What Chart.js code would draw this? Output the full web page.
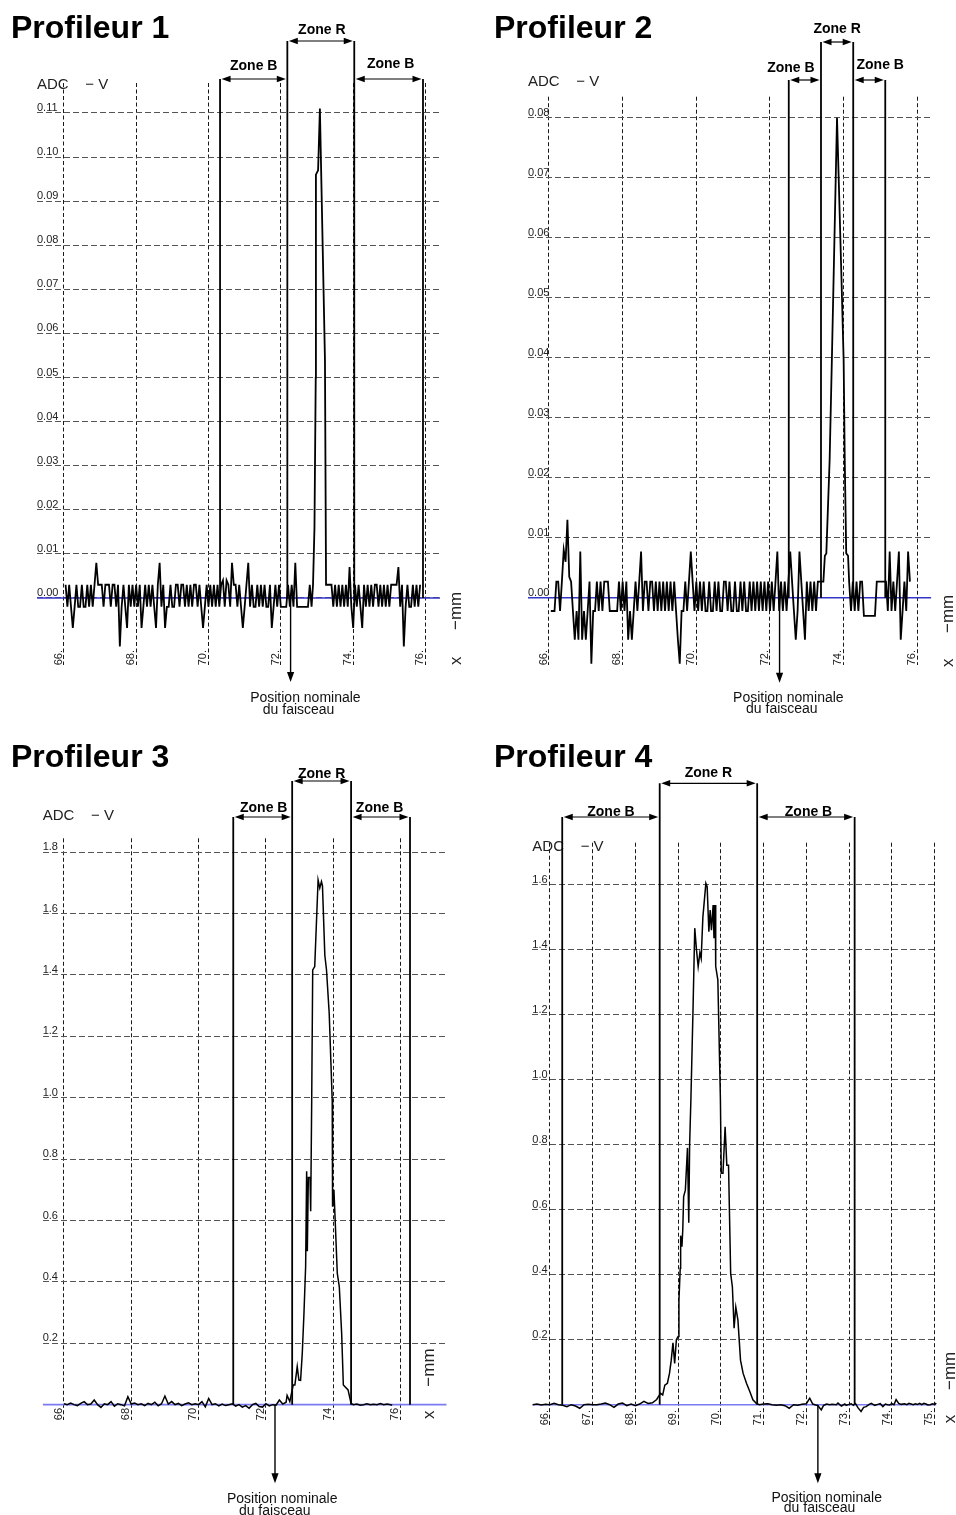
<!DOCTYPE html>
<html><head><meta charset="utf-8">
<script src="https://cdn.jsdelivr.net/npm/chart.js@4.4.1/dist/chart.umd.min.js"></script>
<style>
html,body{margin:0;padding:0;background:#fff;}
#wrap{position:relative;width:956px;height:1515px;overflow:hidden;background:#fff;}
#wrap canvas{position:absolute;}
</style></head><body>
<div id="wrap">
<canvas id="c1" width="478" height="740" style="left:0px;top:0px"></canvas>
<canvas id="c2" width="478" height="740" style="left:478px;top:0px"></canvas>
<canvas id="c3" width="478" height="775" style="left:0px;top:740px"></canvas>
<canvas id="c4" width="478" height="775" style="left:478px;top:740px"></canvas>
</div>
<script>
// ---------- Profileur 1 ----------
const p1X = [66.05,66.10,66.15,66.20,66.25,66.30,66.35,66.40,66.45,66.50,66.55,66.60,66.65,66.70,66.75,66.80,66.85,66.90,66.95,67.00,
67.05,67.10,67.15,67.20,67.25,67.30,67.35,67.40,67.45,67.50,67.55,67.60,67.65,67.70,67.75,67.80,67.85,67.90,67.95,68.00,
68.05,68.10,68.15,68.20,68.25,68.30,68.35,68.40,68.45,68.50,68.55,68.60,68.65,68.70,68.75,68.80,68.85,68.90,68.95,69.00,
69.05,69.10,69.15,69.20,69.25,69.30,69.35,69.40,69.45,69.50,69.55,69.60,69.65,69.70,69.75,69.80,69.85,69.90,69.95,70.00,
70.05,70.10,70.15,70.20,70.25,70.30,70.35,70.40,70.45,70.50,70.55,70.60,70.65,70.70,70.75,70.80,70.85,70.90,70.95,71.00,
71.05,71.10,71.15,71.20,71.25,71.30,71.35,71.40,71.45,71.50,71.55,71.60,71.65,71.70,71.75,71.80,71.85,71.90,71.95,72.00,
72.05,72.10,72.15,72.20,72.25,72.30,72.35,72.40,72.45,72.50,72.55,72.60,72.65,72.70,72.75,72.80,72.85,
72.89,72.93,72.965,72.97,73.03,73.08,73.22,73.25,
73.30,73.35,73.40,73.45,73.50,73.55,73.60,73.65,73.70,73.75,73.80,73.85,73.90,73.95,74.00,
74.05,74.10,74.15,74.20,74.25,74.30,74.35,74.40,74.45,74.50,74.55,74.60,74.65,74.70,74.75,74.80,74.85,74.90,74.95,75.00,
75.05,75.10,75.15,75.20,75.25,75.30,75.35,75.40,75.45,75.50,75.55,75.60,75.65,75.70,75.75,75.80,75.85];
const p1Y = [0.003,-0.002,0.003,-0.002,-0.0068,-0.002,0.003,-0.002,-0.002,0.003,-0.002,-0.002,0.003,-0.002,0.003,-0.002,0.003,0.008,0.003,0.003,
0.003,-0.002,0.003,0.003,0.003,-0.002,0.003,0.003,-0.002,0.003,-0.011,-0.002,0.003,-0.002,-0.0068,0.003,-0.002,0.003,-0.002,0.003,
-0.002,0.003,-0.0068,-0.002,0.003,-0.002,0.003,-0.002,0.003,-0.002,-0.0068,0.003,0.008,-0.002,0.003,-0.0068,-0.002,-0.002,0.003,-0.002,
-0.002,0.003,0.003,-0.002,0.003,0.003,-0.002,0.003,-0.002,0.003,-0.002,0.003,0.003,-0.002,0.003,-0.002,-0.0068,-0.002,0.003,-0.002,
0.003,-0.002,0.003,-0.002,0.003,-0.002,0.003,0.004,-0.002,0.004,0.003,-0.002,0.008,0.003,0.003,-0.002,0.003,-0.002,-0.0068,-0.002,
0.003,0.008,-0.002,0.003,-0.002,-0.002,0.003,-0.002,0.003,-0.002,0.003,-0.002,-0.002,0.003,-0.0068,-0.002,0.003,-0.002,0.003,-0.002,
-0.002,-0.002,-0.002,0.003,-0.002,0.003,-0.002,0.008,-0.002,-0.002,-0.002,-0.002,-0.002,-0.002,-0.002,0.003,-0.002,
0.003,0.016,0.05,0.096,0.097,0.111,0.054,0.003,
0.003,0.003,0.003,-0.002,0.003,-0.002,0.003,-0.002,0.003,-0.002,0.003,-0.002,0.007,-0.002,-0.0068,
0.003,-0.002,0.003,-0.002,-0.0068,0.003,-0.002,0.003,-0.002,0.003,-0.002,0.003,0.003,-0.002,0.003,-0.002,0.003,-0.002,0.003,-0.002,
0.003,0.003,0.003,0.003,0.007,-0.002,0.003,-0.011,-0.002,0.003,-0.002,-0.002,0.003,-0.002,0.003,-0.002,0.003];
const p1XTicks = [66,68,70,72,74,76];
const p1YTicks = [0,0.01,0.02,0.03,0.04,0.05,0.06,0.07,0.08,0.09,0.10,0.11];
const p1XRange = [65.26,76.4];
const p1YRange = [-0.0152,0.1168];
const p1Zones = [70.32,72.18,74.03,75.93];
const p1Nominal = 72.27;

// ---------- Profileur 2 ----------
const p2X = [66.05,66.10,66.15,66.20,66.25,66.30,66.35,66.40,66.45,66.50,66.55,66.60,66.65,66.70,66.75,66.80,66.85,66.90,66.95,67.00,
67.05,67.10,67.15,67.20,67.25,67.30,67.35,67.40,67.45,67.50,67.55,67.60,67.65,67.70,67.75,67.80,67.85,67.90,67.95,68.00,
68.05,68.10,68.15,68.20,68.25,68.30,68.35,68.40,68.45,68.50,68.55,68.60,68.65,68.70,68.75,68.80,68.85,68.90,68.95,69.00,
69.05,69.10,69.15,69.20,69.25,69.30,69.35,69.40,69.45,69.50,69.55,69.60,69.65,69.70,69.75,69.80,69.85,69.90,69.95,70.00,
70.05,70.10,70.15,70.20,70.25,70.30,70.35,70.40,70.45,70.50,70.55,70.60,70.65,70.70,70.75,70.80,70.85,70.90,70.95,71.00,
71.05,71.10,71.15,71.20,71.25,71.30,71.35,71.40,71.45,71.50,71.55,71.60,71.65,71.70,71.75,71.80,71.85,71.90,71.95,72.00,
72.05,72.10,72.15,72.20,72.25,72.30,72.35,72.40,72.45,72.50,72.55,72.60,72.65,72.70,72.75,72.80,72.85,72.90,72.95,73.00,
73.05,73.10,73.15,73.20,73.25,73.30,73.35,73.40,73.45,
73.49,73.53,73.62,73.68,73.82,73.94,74.00,74.03,74.07,74.12,74.15,
74.20,74.25,74.30,74.35,74.40,74.45,74.50,74.55,74.60,74.65,74.70,74.75,74.80,74.85,74.90,74.95,75.00,75.05,75.10,75.15,
75.20,75.25,75.30,75.35,75.40,75.45,75.50,75.55,75.60,75.65,75.70,75.75,75.80];
const p2Y = [-0.0022,-0.0022,-0.0022,0.0027,0.0027,-0.0022,0.0027,0.008,0.006,0.013,0.0035,0.0027,-0.0022,-0.007,-0.0022,-0.007,0.0077,-0.007,-0.0022,-0.007,
-0.0022,0.0027,-0.011,-0.0022,-0.0022,0.0027,-0.0022,0.0027,-0.0022,0.0027,0.0027,0.0027,-0.0022,-0.0022,-0.0022,-0.0022,-0.0022,0.0027,-0.0022,0.0027,
-0.0022,0.0027,-0.007,-0.0022,-0.007,-0.0022,0.0027,-0.0022,0.0027,0.0077,-0.0022,0.0027,0.0027,-0.0022,0.0027,0.0027,-0.0022,0.0027,-0.0022,0.0027,
-0.0022,0.0027,-0.0022,0.0027,-0.0022,0.0027,-0.0022,0.0027,-0.0022,-0.007,-0.011,-0.0022,-0.0022,0.0027,-0.0022,0.0027,0.0077,0.0027,-0.0022,0.0027,
-0.0022,0.0027,-0.0022,0.0027,-0.0022,-0.0022,0.0027,-0.0022,-0.0022,0.0027,-0.0022,0.0027,-0.0022,-0.0022,0.0027,0.0027,-0.0022,0.0027,-0.0022,-0.0022,
0.0027,-0.0022,-0.0022,0.0027,-0.0022,0.0027,-0.0022,-0.0022,0.0027,-0.0022,0.0027,-0.0022,0.0027,-0.0022,0.0027,-0.0022,0.0027,-0.0022,0.0027,-0.0022,
0.0027,-0.0022,0.0027,0.0077,-0.0022,0.0027,-0.0022,0.0027,-0.0022,0.0027,0.0077,0.0027,-0.0022,-0.007,-0.0022,0.0077,0.0027,-0.0022,-0.007,0.0027,
-0.0022,0.0027,-0.0022,0.0027,-0.0022,0.0027,0.0027,0.0027,0.0027,
0.007,0.0074,0.023,0.0396,0.08,0.0535,0.0396,0.023,0.0074,0.007,0.0026,
-0.0022,0.0027,-0.0022,0.0027,-0.0022,0.0027,0.0027,-0.003,-0.003,-0.003,-0.003,-0.003,-0.003,-0.003,0.0027,0.0027,0.0027,0.0027,0.0027,0.0027,
-0.0022,0.0077,-0.0022,0.0027,-0.0022,0.0027,0.0077,-0.007,-0.0022,0.0027,-0.0022,0.0077,0.0027];
const p2XTicks = [66,68,70,72,74,76];
const p2YTicks = [0,0.01,0.02,0.03,0.04,0.05,0.06,0.07,0.08];
const p2XRange = [65.43,76.38];
const p2YRange = [-0.0112,0.0835];
const p2Zones = [72.51,73.385,74.26,75.13];
const p2Nominal = 72.26;

// ---------- Profileur 3 ----------
const p3X = [66.0,66.1,66.2,66.3,66.4,66.5,66.6,66.7,66.8,66.9,67.0,67.1,67.2,67.3,67.4,67.5,67.6,67.7,67.8,67.9,
68.0,68.1,68.2,68.3,68.4,68.5,68.6,68.7,68.8,68.9,69.0,69.1,69.2,69.3,69.4,69.5,69.6,69.7,69.8,69.9,
70.0,70.1,70.2,70.3,70.4,70.5,70.6,70.7,70.8,70.9,71.0,71.1,71.2,71.3,71.4,71.5,71.6,71.7,71.8,71.9,
72.0,72.1,72.2,72.3,72.4,72.5,72.6,
72.63,72.71,72.81,72.86,72.93,72.98,73.03,73.08,73.13,73.18,73.21,73.23,73.26,73.31,73.33,73.36,73.39,73.45,
73.55,73.60,73.65,73.68,73.75,73.80,73.88,73.97,73.98,74.02,74.05,74.12,74.18,74.25,74.30,74.44,74.53,
74.6,74.7,74.8,74.9,75.0,75.1,75.2,75.3,75.4,75.5,75.6,75.7,75.75];
const p3Y = [0.003,0,0.005,0,-0.003,0.004,0.01,0,0.002,0.015,0,-0.009,0.003,0,0.01,-0.005,0.003,0,-0.004,0.026,
0.002,0.005,0,0.003,-0.003,0.004,0,0.008,-0.004,0.003,0.028,0.002,0.01,0,0.004,-0.003,0.002,0.006,0,0.003,
0,0.01,-0.007,0.02,0,0.003,-0.004,0.002,-0.003,0,0.003,-0.005,0,-0.008,-0.003,-0.012,0,0.004,-0.006,-0.008,
0.003,-0.004,0,-0.002,0.015,0.002,0.008,
0.03,0.01,0.064,0.064,0.124,0.08,0.079,0.167,0.297,0.45,0.76,0.50,0.74,0.74,0.63,0.99,1.416,1.427,
1.709,1.683,1.704,1.69,1.464,1.416,1.275,0.99,0.645,0.70,0.62,0.428,0.384,0.232,0.064,0.048,0.004,
0,0.002,-0.002,0,0.003,0,0.001,0,0.004,0,0.002,0,-0.002];
const p3XTicks = [66,68,70,72,74,76];
const p3YTicks = [0.2,0.4,0.6,0.8,1.0,1.2,1.4,1.6,1.8];
const p3XRange = [65.37,77.37];
const p3YRange = [-0.050,1.845];
const p3Zones = [71.03,72.78,74.53,76.28];
const p3Nominal = 72.27;

// ---------- Profileur 4 ----------
const p4X = [65.6,65.7,65.8,65.9,66.0,66.1,66.2,66.3,66.4,66.5,66.6,66.7,66.8,66.9,67.0,67.1,67.2,67.3,67.4,67.5,
67.6,67.7,67.8,67.9,68.0,68.1,68.2,68.3,68.4,68.5,
68.54,68.59,68.64,68.69,68.75,68.80,68.84,68.88,68.92,68.96,69.00,69.02,69.05,69.06,69.09,69.11,69.13,69.17,69.22,69.25,
69.27,69.30,69.35,69.39,69.43,69.47,69.51,69.54,69.58,69.65,69.68,69.72,69.75,69.78,69.82,69.84,69.87,69.88,69.93,69.99,
70.01,70.05,70.10,70.14,70.18,70.23,70.27,70.31,70.35,70.40,70.46,70.52,70.60,70.68,70.75,70.83,
70.9,71.0,71.1,71.2,71.3,71.4,71.5,71.6,71.7,71.8,71.9,72.0,72.08,72.15,72.2,72.27,72.35,72.4,72.47,72.55,
72.6,72.7,72.74,72.82,72.9,72.93,73.0,73.05,73.1,73.15,73.21,73.28,73.34,73.4,73.46,73.52,73.6,73.67,73.73,73.79,
73.85,73.9,73.95,74.0,74.05,74.1,74.16,74.22,74.3,74.35,74.4,74.45,74.5,74.55,74.6,74.65,74.7,74.75,74.8,74.84,
74.9,74.95,75.0,75.04,75.12,75.2,75.25,75.3,75.35,75.4,75.5];
const p4Y = [0,0.002,-0.001,0.001,0,0.004,0,-0.002,-0.006,0,-0.004,-0.011,0,0.001,0,0,0.002,0.005,0,-0.008,
0.002,0.005,-0.003,0.002,-0.003,0.002,0.01,0.004,0.006,0.016,
0.025,0.035,0.03,0.06,0.066,0.097,0.137,0.19,0.127,0.20,0.21,0.32,0.42,0.52,0.486,0.54,0.64,0.66,0.79,0.56,
0.80,0.94,1.22,1.466,1.40,1.348,1.39,1.373,1.50,1.604,1.594,1.455,1.522,1.46,1.537,1.435,1.537,1.348,1.307,0.94,
0.712,0.712,0.855,0.737,0.737,0.404,0.363,0.235,0.30,0.26,0.137,0.097,0.066,0.04,0.015,0.004,
0,0.002,0.003,0,-0.002,0,-0.003,-0.011,0,-0.002,0.001,0.003,0.02,0.002,0,-0.003,-0.016,-0.003,0.002,0,
0.001,0,0.005,-0.004,0.002,-0.002,0.001,0.003,-0.002,0.003,-0.01,-0.021,-0.008,-0.006,0,0.004,-0.002,0.001,0.003,-0.006,
0.002,0,-0.001,0.003,0,0.016,0.004,0.001,0.003,0,0.004,0.002,0,0.003,0.001,0.004,0,0.004,0.002,-0.001,
0,0.003,0.001,0.005,-0.001,0,0.001,0,0.002,0.001,0];
const p4XTicks = [66,67,68,69,70,71,72,73,74,75];
const p4YTicks = [0.2,0.4,0.6,0.8,1.0,1.2,1.4,1.6];
const p4XRange = [65.59,75.04];
const p4YRange = [-0.0625,1.729];
const p4Zones = [66.29,68.57,70.85,73.13];
const p4Nominal = 72.27;

// ---------- layout / style configuration ----------
const FONT = '"Liberation Sans", Arial, Helvetica, sans-serif';
Chart.defaults.font.family = FONT;

const panels = [
 { canvas:'c1', title:'Profileur 1', xs:p1X, ys:p1Y, xTicks:p1XTicks, yTicks:p1YTicks, xRange:p1XRange, yRange:p1YRange,
   zones:p1Zones, nominal:p1Nominal, yDigits:2, xSuffix:'.', blue:'#3535c8', lw:1.8,
   L:{ pad:{left:37,right:38,top:83,bottom:55}, xAxisH:20, xLabPad:15, clip:2,
       title:[11,38.3], adc:[37,89], unit:{x:461,mm:630,xx:665},
       zr:41, zb:79, zt:[70,34.3,68.3], zdx:[0,1,2], tip:682, n1:[14.8,702], n2:[8,714] } },
 { canvas:'c2', title:'Profileur 2', xs:p2X, ys:p2Y, xTicks:p2XTicks, yTicks:p2YTicks, xRange:p2XRange, yRange:p2YRange,
   zones:p2Zones, nominal:p2Nominal, yDigits:2, xSuffix:'.', blue:'#3535c8', lw:1.8,
   L:{ pad:{left:50,right:24.7,top:96.7,bottom:55}, xAxisH:20, xLabPad:15, clip:2,
       title:[16,38.3], adc:[50,86], unit:{x:475,mm:633,xx:667},
       zr:42, zb:80, zt:[71.7,33.3,69], zdx:[-14,0,11], tip:682.7, n1:[8.8,702.3], n2:[2.3,712.7] } },
 { canvas:'c3', title:'Profileur 3', xs:p3X, ys:p3Y, xTicks:p3XTicks, yTicks:p3YTicks, xRange:p3XRange, yRange:p3YRange,
   zones:p3Zones, nominal:p3Nominal, yDigits:1, xSuffix:'', blue:'#7a7af2', lw:1.5,
   L:{ pad:{left:42.7,right:31.3,top:98.3,bottom:75}, xAxisH:20, xLabPad:12, clip:2,
       title:[11,26.7], adc:[42.7,80], unit:{x:433.5,mm:646.7,xx:679},
       zr:41, zb:77, zt:[71.7,37.7,71.7], zdx:[1,0,-1], tip:743.3, n1:[7.2,763.3], n2:[-0.3,775] } },
 { canvas:'c4', title:'Profileur 4', xs:p4X, ys:p4Y, xTicks:p4XTicks, yTicks:p4YTicks, xRange:p4XRange, yRange:p4YRange,
   zones:p4Zones, nominal:p4Nominal, yDigits:1, xSuffix:'.', blue:'#7a7af2', lw:1.5,
   L:{ pad:{left:54.3,right:19.7,top:102.7,bottom:70}, xAxisH:20, xLabPad:15, clip:{left:2,top:2,right:25,bottom:2},
       title:[16,26.7], adc:[54.3,110.7], unit:{x:477,mm:650,xx:683.3},
       zr:43.3, zb:77, zt:[75.7,37.3,75.7], zdx:[0,0,2.6], tip:743.3, n1:[8.8,761.7], n2:[1.7,772.3] } }
];

function hArrow(ctx, x1, x2, y) {
  const HL = 9, HW = 3.2;
  ctx.lineWidth = 1.2;
  ctx.beginPath(); ctx.moveTo(x1 + HL - 1, y); ctx.lineTo(x2 - HL + 1, y); ctx.stroke();
  ctx.beginPath(); ctx.moveTo(x1, y); ctx.lineTo(x1 + HL, y - HW); ctx.lineTo(x1 + HL, y + HW); ctx.closePath(); ctx.fill();
  ctx.beginPath(); ctx.moveTo(x2, y); ctx.lineTo(x2 - HL, y - HW); ctx.lineTo(x2 - HL, y + HW); ctx.closePath(); ctx.fill();
}

function annot(P) {
  const L = P.L;
  return {
    id: 'annot_' + P.canvas,
    afterDraw(chart) {
      const ctx = chart.ctx, sx = chart.scales.x, sy = chart.scales.y;
      const y0 = sy.getPixelForValue(0);
      ctx.save();
      ctx.textBaseline = 'alphabetic';
      ctx.textAlign = 'left';
      // title
      ctx.fillStyle = '#000';
      ctx.font = 'bold 32px ' + FONT;
      ctx.fillText(P.title, L.title[0], L.title[1]);
      // y unit
      ctx.fillStyle = '#222';
      ctx.font = '15px ' + FONT;
      ctx.fillText('ADC    \u2212 V', L.adc[0], L.adc[1]);
      // x unit (rotated)
      ctx.font = '17px ' + FONT;
      [['\u2212mm', L.unit.mm], ['x', L.unit.xx]].forEach(([t, yb]) => {
        ctx.save(); ctx.translate(L.unit.x, yb); ctx.rotate(-Math.PI / 2);
        ctx.fillText(t, 0, 0); ctx.restore();
      });
      // zones
      ctx.fillStyle = '#000'; ctx.strokeStyle = '#000';
      const zp = P.zones.map(v => sx.getPixelForValue(v));
      const tops = [L.zb, L.zr, L.zr, L.zb];
      ctx.lineWidth = 1.8;
      zp.forEach((x, i) => { ctx.beginPath(); ctx.moveTo(x, tops[i]); ctx.lineTo(x, y0); ctx.stroke(); });
      hArrow(ctx, zp[0] + 1.5, zp[1] - 1.5, L.zb);
      hArrow(ctx, zp[1] + 1.5, zp[2] - 1.5, L.zr);
      hArrow(ctx, zp[2] + 1.5, zp[3] - 1.5, L.zb);
      ctx.font = 'bold 14px ' + FONT;
      ctx.textAlign = 'center';
      ctx.fillText('Zone B', (zp[0] + zp[1]) / 2 + L.zdx[0], L.zt[0]);
      ctx.fillText('Zone R', (zp[1] + zp[2]) / 2 + L.zdx[1], L.zt[1]);
      ctx.fillText('Zone B', (zp[2] + zp[3]) / 2 + L.zdx[2], L.zt[2]);
      // nominal beam position
      const xn = sx.getPixelForValue(P.nominal);
      ctx.lineWidth = 1.4;
      ctx.beginPath(); ctx.moveTo(xn, y0); ctx.lineTo(xn, L.tip - 9); ctx.stroke();
      ctx.beginPath(); ctx.moveTo(xn, L.tip); ctx.lineTo(xn - 3.6, L.tip - 10); ctx.lineTo(xn + 3.6, L.tip - 10); ctx.closePath(); ctx.fill();
      ctx.fillStyle = '#111';
      ctx.font = '14px ' + FONT;
      ctx.fillText('Position nominale', xn + L.n1[0], L.n1[1]);
      ctx.fillText('du faisceau', xn + L.n2[0], L.n2[1]);
      ctx.restore();
    }
  };
}

function makeChart(P) {
  const L = P.L;
  const trace = P.xs.map((x, i) => ({ x: x, y: P.ys[i] }));
  const zero = P.xRange.map(x => ({ x: x, y: 0 }));
  return new Chart(document.getElementById(P.canvas), {
    type: 'line',
    data: { datasets: [
      { label: P.title, data: trace, borderColor: '#000', borderWidth: P.lw, pointRadius: 0, tension: 0, fill: false, clip: L.clip, order: 0 },
      { label: 'zero', data: zero, borderColor: P.blue, borderWidth: 1.6, pointRadius: 0, fill: false, order: 1 }
    ]},
    options: {
      responsive: false, animation: false, devicePixelRatio: 1, events: [],
      layout: { padding: L.pad, autoPadding: false },
      plugins: { legend: { display: false }, tooltip: { enabled: false }, title: { display: false } },
      scales: {
        x: {
          type: 'linear', position: 'bottom', min: P.xRange[0], max: P.xRange[1],
          afterBuildTicks: s => { s.ticks = P.xTicks.map(v => ({ value: v })); },
          afterFit: s => { s.height = L.xAxisH; s.paddingLeft = 0; s.paddingRight = 0; },
          grid: { color: '#1a1a1a', lineWidth: 1, drawTicks: false },
          border: { display: false, dash: [4, 2.5] },
          ticks: { autoSkip: false, minRotation: 90, maxRotation: 90, mirror: true, padding: L.xLabPad, labelOffset: 8,
                   color: '#222', font: { size: 11 }, callback: v => v + P.xSuffix }
        },
        y: {
          type: 'linear', position: 'left', min: P.yRange[0], max: P.yRange[1],
          afterBuildTicks: s => { s.ticks = P.yTicks.map(v => ({ value: v })); },
          afterFit: s => { s.width = 0; s.paddingTop = 0; s.paddingBottom = 0; },
          grid: { color: '#555', lineWidth: 1, drawTicks: false },
          border: { display: false, dash: [6, 3] },
          ticks: { mirror: true, padding: 0, labelOffset: -5, color: '#222', font: { size: 11 },
                   callback: v => Number(v).toFixed(P.yDigits) }
        }
      }
    },
    plugins: [annot(P)]
  });
}

panels.forEach(makeChart);
</script>
</body></html>
